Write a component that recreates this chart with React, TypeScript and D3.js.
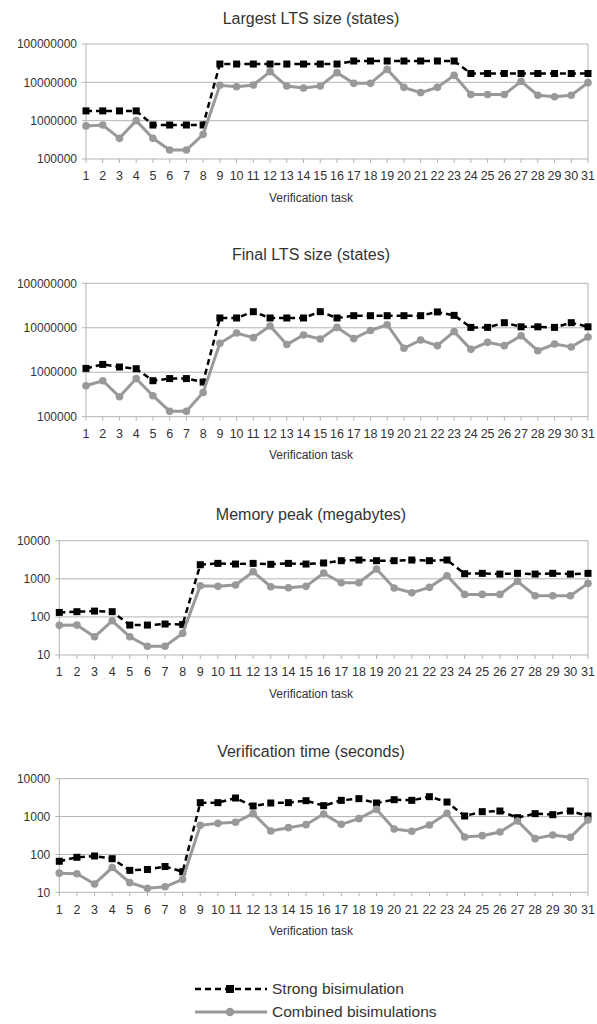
import { useEffect, useRef } from 'react'
import * as d3 from 'd3'

const tasks = ['1', '2', '3', '4', '5', '6', '7', '8', '9', '10', '11', '12', '13', '14', '15', '16', '17', '18', '19', '20', '21', '22', '23', '24', '25', '26', '27', '28', '29', '30', '31']

const seriesNames = ['Strong bisimulation', 'Combined bisimulations']

const largestStrong = [1800000, 1800000, 1800000, 1800000, 770000, 770000, 770000, 770000, 30000000, 30000000, 30000000, 30000000, 30000000, 30000000, 30000000, 30000000, 36000000, 36000000, 36000000, 36000000, 36000000, 36000000, 36000000, 17000000, 17000000, 17000000, 17000000, 17000000, 17000000, 17000000, 17000000]
const largestCombined = [730000, 770000, 346000, 1000000, 346000, 172000, 172000, 440000, 8400000, 7700000, 8500000, 19000000, 8000000, 7100000, 8000000, 17900000, 9400000, 9400000, 21800000, 7400000, 5400000, 7400000, 15200000, 4800000, 4800000, 4800000, 10600000, 4600000, 4200000, 4600000, 9800000]

const finalStrong = [1220000, 1500000, 1310000, 1200000, 645000, 720000, 720000, 600000, 16600000, 16600000, 23000000, 16600000, 16600000, 16600000, 23000000, 16600000, 18700000, 18700000, 18700000, 18700000, 18700000, 22700000, 19000000, 10200000, 10200000, 13000000, 10500000, 10500000, 10200000, 13000000, 10500000]
const finalCombined = [498000, 645000, 280000, 720000, 297000, 132000, 132000, 350000, 4470000, 7600000, 6000000, 11000000, 4200000, 6900000, 5600000, 10200000, 5700000, 8700000, 11700000, 3450000, 5300000, 3960000, 8200000, 3270000, 4700000, 3960000, 6600000, 3050000, 4300000, 3700000, 6200000]

const memStrong = [131, 137, 142, 137, 61, 61, 65, 63, 2340, 2540, 2440, 2540, 2400, 2540, 2440, 2600, 2990, 3110, 2990, 2990, 3110, 2990, 3110, 1360, 1390, 1330, 1390, 1330, 1390, 1330, 1390]
const memCombined = [60, 61, 30, 79, 30, 17, 17, 37, 659, 633, 686, 1535, 621, 583, 633, 1416, 790, 790, 1800, 573, 432, 596, 1205, 390, 390, 390, 857, 360, 360, 360, 758]

const timeStrong = [66, 84, 91, 77, 38, 40, 48, 35, 2330, 2330, 3090, 1900, 2280, 2330, 2630, 1940, 2680, 2970, 2280, 2790, 2680, 3350, 2420, 1035, 1347, 1402, 936, 1195, 1122, 1402, 1035]
const timeCombined = [32, 31, 16.6, 45, 18, 12.8, 14, 22, 587, 663, 705, 1195, 416, 509, 611, 1170, 624, 881, 1552, 470, 408, 598, 1216, 289, 313, 392, 764, 261, 327, 283, 811]

const statesTicks = [100000, 1000000, 10000000, 100000000]
const smallTicks = [10, 100, 1000, 10000]

const panels = [
  { title: 'Largest LTS size (states)', strong: largestStrong, combined: largestCombined, ticks: statesTicks, top: 44, bottom: 159, left: 86, titleY: 18 },
  { title: 'Final LTS size (states)', strong: finalStrong, combined: finalCombined, ticks: statesTicks, top: 283.3, bottom: 416.7, left: 86, titleY: 254 },
  { title: 'Memory peak (megabytes)', strong: memStrong, combined: memCombined, ticks: smallTicks, top: 540.7, bottom: 655, left: 59.3, titleY: 514 },
  { title: 'Verification time (seconds)', strong: timeStrong, combined: timeCombined, ticks: smallTicks, top: 778.7, bottom: 892.3, left: 59.3, titleY: 751.7 },
]

const W = 597
const H = 1024
const RIGHT = 588
const CENTER = 311
const FONT = '"Liberation Sans", Arial, sans-serif'
const TEXT = '#333'
const GRID = '#b3b3b3'
const BLACK = '#000'
const GRAY = '#999'

export default function App() {
  const svgRef = useRef<SVGSVGElement>(null)

  useEffect(() => {
    if (!svgRef.current) return
    const svg = d3.select(svgRef.current)
    svg.selectAll('*').remove()

    panels.forEach(p => {
      const x = d3.scalePoint<string>().domain(tasks).range([p.left, RIGHT])
      const y = d3.scaleLog()
        .domain([p.ticks[0], p.ticks[p.ticks.length - 1]])
        .range([p.bottom, p.top])

      const g = svg.append('g')

      g.append('text')
        .attr('x', CENTER)
        .attr('y', p.titleY)
        .attr('dy', '0.35em')
        .attr('text-anchor', 'middle')
        .attr('font-size', 16)
        .attr('fill', TEXT)
        .text(p.title)

      // horizontal grid
      g.selectAll('.grid')
        .data(p.ticks)
        .enter()
        .append('line')
        .attr('x1', p.left - 4)
        .attr('x2', RIGHT)
        .attr('y1', d => y(d))
        .attr('y2', d => y(d))
        .attr('stroke', GRID)
        .attr('stroke-width', 1)

      g.selectAll('.ylab')
        .data(p.ticks)
        .enter()
        .append('text')
        .attr('x', p.left - 9)
        .attr('y', d => y(d))
        .attr('dy', '0.35em')
        .attr('text-anchor', 'end')
        .attr('font-size', 12)
        .attr('fill', TEXT)
        .text(d => String(d))

      // axis frame
      g.append('line')
        .attr('x1', p.left).attr('x2', p.left)
        .attr('y1', p.top).attr('y2', p.bottom)
        .attr('stroke', GRID)
      g.append('line')
        .attr('x1', RIGHT).attr('x2', RIGHT)
        .attr('y1', p.top).attr('y2', p.bottom)
        .attr('stroke', GRID)

      g.selectAll('.xtick')
        .data(tasks)
        .enter()
        .append('line')
        .attr('x1', d => x(d)!)
        .attr('x2', d => x(d)!)
        .attr('y1', p.bottom)
        .attr('y2', p.bottom + 4)
        .attr('stroke', GRID)

      g.selectAll('.xlab')
        .data(tasks)
        .enter()
        .append('text')
        .attr('x', d => x(d)!)
        .attr('y', p.bottom + 17)
        .attr('dy', '0.35em')
        .attr('text-anchor', 'middle')
        .attr('font-size', 12.5)
        .attr('fill', TEXT)
        .text(d => d)

      g.append('text')
        .attr('x', CENTER)
        .attr('y', p.bottom + 38.5)
        .attr('dy', '0.35em')
        .attr('text-anchor', 'middle')
        .attr('font-size', 12)
        .attr('fill', TEXT)
        .text('Verification task')

      const line = d3.line<number>()
        .x((_, i) => x(tasks[i])!)
        .y(d => y(d))

      // strong bisimulation
      g.append('path')
        .datum(p.strong)
        .attr('fill', 'none')
        .attr('stroke', BLACK)
        .attr('stroke-width', 2.5)
        .attr('stroke-dasharray', '6,4')
        .attr('d', line)

      g.selectAll('.sq')
        .data(p.strong)
        .enter()
        .append('rect')
        .attr('x', (_, i) => x(tasks[i])! - 3.5)
        .attr('y', d => y(d) - 3.5)
        .attr('width', 7)
        .attr('height', 7)
        .attr('fill', BLACK)

      // combined bisimulations
      g.append('path')
        .datum(p.combined)
        .attr('fill', 'none')
        .attr('stroke', GRAY)
        .attr('stroke-width', 3)
        .attr('d', line)

      g.selectAll('.dot')
        .data(p.combined)
        .enter()
        .append('circle')
        .attr('cx', (_, i) => x(tasks[i])!)
        .attr('cy', d => y(d))
        .attr('r', 3.8)
        .attr('fill', GRAY)
    })

    // legend
    const legend = svg.append('g')
    const rows = [
      { name: seriesNames[0], y: 989, color: BLACK, dash: '6,4', marker: 'rect' },
      { name: seriesNames[1], y: 1012, color: GRAY, dash: null, marker: 'circle' },
    ]
    rows.forEach(r => {
      legend.append('line')
        .attr('x1', 195).attr('x2', 267)
        .attr('y1', r.y).attr('y2', r.y)
        .attr('stroke', r.color)
        .attr('stroke-width', r.marker === 'rect' ? 2.5 : 3)
        .attr('stroke-dasharray', r.dash)
      if (r.marker === 'rect') {
        legend.append('rect')
          .attr('x', 226).attr('y', r.y - 4)
          .attr('width', 8).attr('height', 8)
          .attr('fill', r.color)
      } else {
        legend.append('circle')
          .attr('cx', 230).attr('cy', r.y)
          .attr('r', 4.2)
          .attr('fill', r.color)
      }
      legend.append('text')
        .attr('x', 272)
        .attr('y', r.y)
        .attr('dy', '0.35em')
        .attr('font-size', 15.5)
        .attr('fill', TEXT)
        .text(r.name)
    })
  }, [])

  return (
    <svg
      ref={svgRef}
      width={W}
      height={H}
      style={{ position: 'absolute', left: 0, top: 0, background: '#fff', fontFamily: FONT }}
    />
  )
}
